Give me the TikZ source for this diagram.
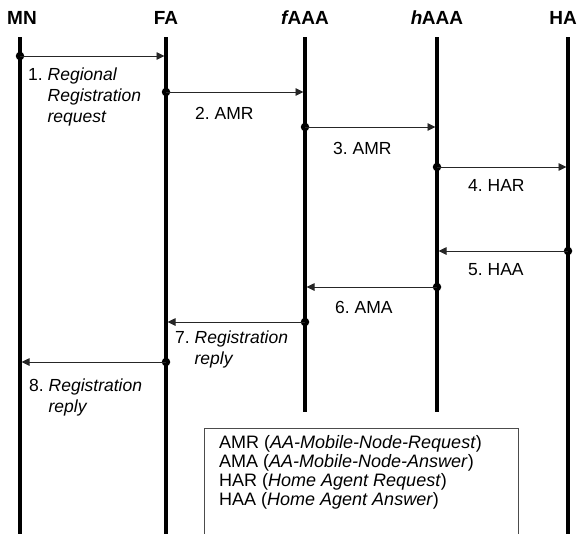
\documentclass[tikz,border=0pt]{standalone}
\usepackage{fontspec}
\setmainfont{Liberation Sans}
\usetikzlibrary{arrows.meta}
\begin{document}
\frenchspacing
\begin{tikzpicture}[x=1pt,y=-1pt,
  life/.style={line width=4pt},
  msg/.style={line width=0.9pt, draw=black!85, -{Triangle[length=8pt,width=7.5pt]}, shorten >=1.5pt},
  dot/.style={circle, fill=black, inner sep=0pt, minimum size=8.5pt},
  hdr/.style={font=\bfseries\fontsize{19}{21}\selectfont, inner sep=0pt},
  lbl/.style={font=\fontsize{17.5}{21}\selectfont, align=left, anchor=west, inner sep=0pt}]
\useasboundingbox (0,0) rectangle (577,533);

% headers
\node[hdr] (hMN) at (22,18) {MN};
\node[hdr] (hFA) at (166,18) {FA};
\node[hdr] (hF) at (305,18) {\textit{f}\kern-1.5pt AAA};
\node[hdr] (hH) at (437,18) {\textit{h}\kern-0.5pt AAA};
\node[hdr] (hHA) at (563,18) {HA};

% lifelines
\coordinate (tMN) at (20,37);  \coordinate (bMN) at (20,540);
\coordinate (tFA) at (166,37); \coordinate (bFA) at (166,540);
\coordinate (tF) at (305,37);  \coordinate (bF) at (305,412);
\coordinate (tH) at (437,37);  \coordinate (bH) at (437,412);
\coordinate (tHA) at (568,37); \coordinate (bHA) at (568,540);
\draw[life] (tMN) -- (bMN);
\draw[life] (tFA) -- (bFA);
\draw[life] (tF) -- (bF);
\draw[life] (tH) -- (bH);
\draw[life] (tHA) -- (bHA);

% message end points
\node[dot] (m1s) at (20,56) {};   \coordinate (m1e) at (166,56);
\node[dot] (m2s) at (166,92) {};  \coordinate (m2e) at (305,92);
\node[dot] (m3s) at (305,127) {}; \coordinate (m3e) at (437,127);
\node[dot] (m4s) at (437,167) {}; \coordinate (m4e) at (568,167);
\node[dot] (m5s) at (568,251) {}; \coordinate (m5e) at (437,251);
\node[dot] (m6s) at (437,287) {}; \coordinate (m6e) at (305,287);
\node[dot] (m7s) at (305,322) {}; \coordinate (m7e) at (166,322);
\node[dot] (m8s) at (166,362) {}; \coordinate (m8e) at (20,362);

\draw[msg] (m1s.center) -- (m1e);
\draw[msg] (m2s.center) -- (m2e);
\draw[msg] (m3s.center) -- (m3e);
\draw[msg] (m4s.center) -- (m4e);
\draw[msg] (m5s.center) -- (m5e);
\draw[msg] (m6s.center) -- (m6e);
\draw[msg] (m7s.center) -- (m7e);
\draw[msg] (m8s.center) -- (m8e);

% labels
\node[lbl, anchor=north west] (l1) at (28,68) {1. \textit{Regional}\\\hphantom{1. }\textit{Registration}\\\hphantom{1. }\textit{request}};
\node[lbl] (l2) at (195,113) {2. AMR};
\node[lbl] (l3) at (333,148) {3. AMR};
\node[lbl] (l4) at (468,185) {4. HAR};
\node[lbl] (l5) at (468,270) {5. HAA};
\node[lbl] (l6) at (335,307) {6. AMA};
\node[lbl, anchor=north west] (l7) at (175,331) {7. \textit{Registration}\\\hphantom{7. }\textit{reply}};
\node[lbl, anchor=north west] (l8) at (29,379) {8. \textit{Registration}\\\hphantom{8. }\textit{reply}};

% legend
\draw[line width=1pt, draw=black!70] (204,540) -- (204,428) -- (518,428) -- (518,540);
\node[lbl, anchor=north west, font=\fontsize{18}{19}\selectfont] (leg) at (219,435)
 {AMR (\textit{AA-Mobile-Node-Request})\\
  AMA (\textit{AA-Mobile-Node-Answer})\\
  HAR (\textit{Home Agent Request})\\
  HAA (\textit{Home Agent Answer})};
\end{tikzpicture}
\end{document}
